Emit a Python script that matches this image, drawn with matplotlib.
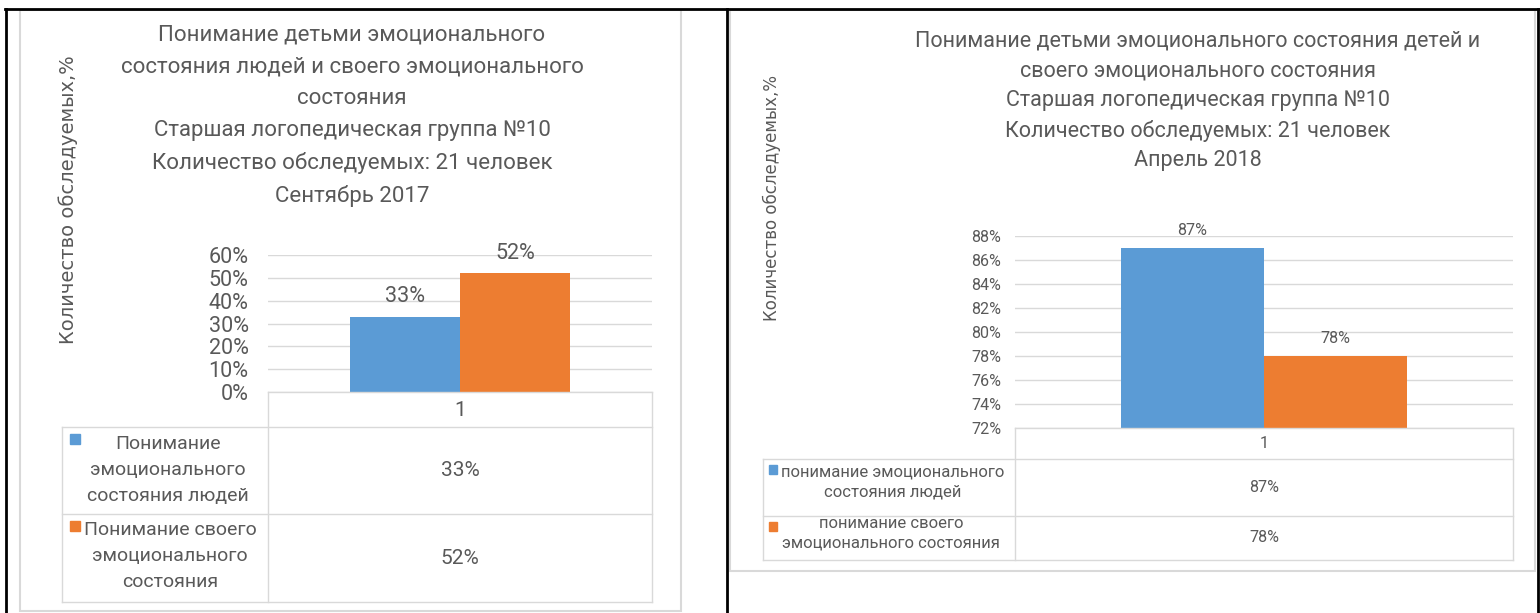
import matplotlib
matplotlib.use("Agg")
import matplotlib.pyplot as plt
from matplotlib.lines import Line2D
from matplotlib.patches import Rectangle

W, H = 1540, 613

# Данные: сентябрь 2017
sep_series = ["Понимание\nэмоционального\nсостояния людей",
              "Понимание своего\nэмоционального\nсостояния"]
sep_values = [0.33, 0.52]
sep_ticks = [0, 0.1, 0.2, 0.3, 0.4, 0.5, 0.6]
sep_title = ("Понимание детьми эмоционального\n"
             "состояния людей и своего эмоционального\n"
             "состояния\n"
             "Старшая логопедическая группа №10\n"
             "Количество обследуемых: 21 человек\n"
             "Сентябрь 2017")

# Данные: апрель 2018
apr_series = ["понимание эмоционального\nсостояния людей",
              "понимание своего\nэмоционального состояния"]
apr_values = [0.87, 0.78]
apr_ticks = [0.72, 0.74, 0.76, 0.78, 0.80, 0.82, 0.84, 0.86, 0.88]
apr_title = ("Понимание детьми эмоционального состояния детей и\n"
             "своего эмоционального состояния\n"
             "Старшая логопедическая группа №10\n"
             "Количество обследуемых: 21 человек\n"
             "Апрель 2018")

category = ["1"]
ylabel = "Количество обследуемых,%"

colors = ["#5b9bd5", "#ed7d31"]
text_c = "#595959"
grid_c = "#d9d9d9"
FONT = ["Roboto", "DejaVu Sans"]

plt.rcParams["font.family"] = FONT

fig = plt.figure(figsize=(W / 100, H / 100), dpi=100)


def fx(x):
    return x / W


def fy(y):
    return 1 - y / H


def hline(x0, x1, y, c=grid_c, lw=1.0):
    fig.add_artist(Line2D([fx(x0), fx(x1)], [fy(y), fy(y)], color=c, lw=lw,
                          transform=fig.transFigure))


def vline(x, y0, y1, c=grid_c, lw=1.0):
    fig.add_artist(Line2D([fx(x), fx(x)], [fy(y0), fy(y1)], color=c, lw=lw,
                          transform=fig.transFigure))


def box(x0, y0, x1, y1, c, lw):
    fig.add_artist(Rectangle((fx(x0), fy(y1)), fx(x1) - fx(x0), fy(y0) - fy(y1),
                             fill=False, edgecolor=c, lw=lw,
                             transform=fig.transFigure))


def panel(px0, px1, py_top, py_bot, values, ticks, tick_fs, pad,
          bar_w, lbl_fs, lbl_off):
    ax = fig.add_axes([fx(px0), fy(py_bot), fx(px1) - fx(px0), fy(py_top) - fy(py_bot)])
    ax.set_xlim(-0.5, 0.5)
    ax.set_ylim(ticks[0], ticks[-1])
    offs = [-bar_w / 2, bar_w / 2]
    for v, o, c in zip(values, offs, colors):
        ax.bar(o, v - ticks[0], bottom=ticks[0], width=bar_w, color=c, zorder=3)
        ax.annotate(f"{round(v * 100)}%", (o, v), xytext=(0, lbl_off),
                    textcoords="offset points", ha="center", va="bottom",
                    fontsize=lbl_fs, color=text_c, annotation_clip=False)
    ax.set_yticks(ticks)
    ax.set_yticklabels([f"{round(t * 100)}%" for t in ticks])
    ax.set_xticks([])
    ax.tick_params(axis="y", length=0, pad=pad, labelsize=tick_fs, labelcolor=text_c)
    ax.grid(axis="y", color=grid_c, lw=1.0, zorder=0)
    for s in ax.spines.values():
        s.set_visible(False)
    return ax


# ---------- левая диаграмма ----------
box(20, 10, 681, 611, "#d9d9d9", 1.5)
fig.text(fx(352), fy(25), sep_title, ha="center", va="top", fontsize=16,
         color=text_c, linespacing=1.66)
fig.text(fx(68), fy(200), ylabel, rotation=90, ha="center", va="center",
         fontsize=14, color=text_c, family="DejaVu Sans")

panel(268, 652, 255, 392, sep_values, sep_ticks, 15.5, 14, 0.286, 15.5, 7)

# таблица данных
hline(268, 652, 392)
hline(62, 652, 427)
hline(62, 652, 514)
hline(62, 652, 602)
vline(268, 392, 602)
vline(652, 392, 602)
vline(62, 427, 602)
fig.text(fx(460), fy(410), category[0], ha="center", va="center", fontsize=15, color=text_c)
rows = [(427, 514), (514, 602)]
for (r0, r1), v, c in zip(rows, sep_values, colors):
    fig.add_artist(Rectangle((fx(70), fy(r0 + 17)), fx(10), fy(0) - fy(10),
                             color=c, transform=fig.transFigure))
    fig.text(fx(460), fy((r0 + r1) / 2), f"{round(v * 100)}%", ha="center",
             va="center", fontsize=15, color=text_c)
fig.text(fx(168), fy(470), sep_series[0], ha="center", va="center", fontsize=14,
         color=text_c, linespacing=1.55)
fig.text(fx(170), fy(556), sep_series[1], ha="center", va="center", fontsize=14,
         color=text_c, linespacing=1.55)

# ---------- правая диаграмма ----------
box(730, 10, 1535, 571, "#d9d9d9", 1.5)
fig.text(fx(1198), fy(31), apr_title, ha="center", va="top", fontsize=15.5,
         color=text_c, linespacing=1.53)
fig.text(fx(772), fy(198), ylabel, rotation=90, ha="center", va="center",
         fontsize=12, color=text_c, family="DejaVu Sans")

panel(1015, 1513, 236, 428, apr_values, apr_ticks, 11.5, 10, 0.287, 11.5, 7)

hline(1015, 1513, 428)
hline(763, 1513, 459)
hline(763, 1513, 516)
hline(763, 1513, 560)
vline(1015, 428, 560)
vline(1513, 428, 560)
vline(763, 459, 560)
fig.text(fx(1264), fy(443), category[0], ha="center", va="center", fontsize=11.5, color=text_c)
rows = [(459, 516), (516, 560)]
for (r0, r1), v, c in zip(rows, apr_values, colors):
    fig.add_artist(Rectangle((fx(769), fy(r0 + 15)), fx(8), fy(0) - fy(9),
                             color=c, transform=fig.transFigure))
    fig.text(fx(1264), fy((r0 + r1) / 2), f"{round(v * 100)}%", ha="center",
             va="center", fontsize=11.5, color=text_c)
fig.text(fx(893), fy(482), apr_series[0], ha="center", va="center", fontsize=12,
         color=text_c, linespacing=1.4)
fig.text(fx(891), fy(533), apr_series[1], ha="center", va="center", fontsize=12,
         color=text_c, linespacing=1.4)

# ---------- рамки таблицы Word ----------
hline(5, 1538, 9, c="black", lw=2)
vline(6, 9, 613, c="black", lw=2)
vline(727, 9, 613, c="black", lw=2)
vline(1538, 9, 613, c="black", lw=2)

fig.savefig("out.png", dpi=100)
